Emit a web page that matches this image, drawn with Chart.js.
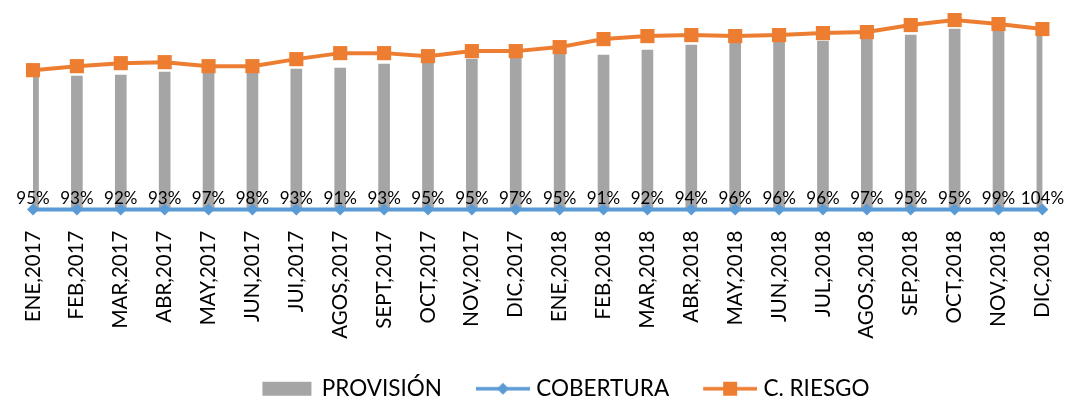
<!DOCTYPE html>
<html>
<head>
<meta charset="utf-8">
<script src="https://cdn.jsdelivr.net/npm/chart.js@4.4.1/dist/chart.umd.min.js"></script>
<style>
    html, body { margin: 0; padding: 0; background: #ffffff; }
    #wrap { width: 1088px; height: 398px; }
</style>
</head>
<body>
<div id="wrap"><canvas id="mainChart"></canvas></div>
<script>
/* =========================
   DATOS
========================= */
const months = [
    "ENE,2017", "FEB,2017", "MAR,2017", "ABR,2017", "MAY,2017", "JUN,2017",
    "JUI,2017", "AGOS,2017", "SEPT,2017", "OCT,2017", "NOV,2017", "DIC,2017",
    "ENE,2018", "FEB,2018", "MAR,2018", "ABR,2018", "MAY,2018", "JUN,2018",
    "JUL,2018", "AGOS,2018", "SEP,2018", "OCT,2018", "NOV,2018", "DIC,2018"
];

const provision = [
    1320, 1330, 1340, 1370, 1370, 1360, 1400, 1410, 1450, 1460, 1500, 1520,
    1550, 1540, 1590, 1640, 1660, 1670, 1680, 1710, 1740, 1800, 1780, 1730
];

const coverage = [
    0.95, 0.93, 0.92, 0.93, 0.97, 0.98, 0.93, 0.91, 0.93, 0.95, 0.95, 0.97,
    0.95, 0.91, 0.92, 0.94, 0.96, 0.96, 0.96, 0.97, 0.95, 0.95, 0.99, 1.04
];

const risk = [
    1390, 1430, 1460, 1470, 1430, 1430, 1500, 1560, 1560, 1530, 1580, 1580,
    1620, 1700, 1730, 1740, 1730, 1740, 1760, 1770, 1840, 1890, 1850, 1800
];

const FONT = "Lato, 'Open Sans', sans-serif";

/* =========================
   ICONOS DE LEYENDA
   (lienzo de 80px, dibujo a la derecha)
========================= */
function makeIcon(kind, color) {
    const c = document.createElement("canvas");
    c.width = 80;
    c.height = 16;
    const g = c.getContext("2d");
    g.fillStyle = color;
    g.strokeStyle = color;
    if (kind === "bar") {
        g.fillRect(27, 1, 49, 14);
        return c;
    }
    const left = 26;
    const right = 80;
    const mid = (left + right) / 2;
    g.lineWidth = 3.5;
    g.beginPath();
    g.moveTo(left, 8);
    g.lineTo(right, 8);
    g.stroke();
    g.beginPath();
    if (kind === "diamond") {
        g.moveTo(mid, 2);
        g.lineTo(mid + 6, 8);
        g.lineTo(mid, 14);
        g.lineTo(mid - 6, 8);
    } else {
        g.rect(mid - 7, 1, 14, 14);
    }
    g.closePath();
    g.fill();
    return c;
}

const legendIcons = [
    makeIcon("bar", "#A5A5A5"),
    makeIcon("diamond", "#5B9BD5"),
    makeIcon("square", "#ED7D31")
];

/* =========================
   ETIQUETAS DE COBERTURA
========================= */
const coverageLabels = {
    id: "coverageLabels",
    afterDatasetsDraw(chart) {
        const meta = chart.getDatasetMeta(1);
        const ctx = chart.ctx;
        ctx.save();
        ctx.font = "17px " + FONT;
        ctx.fillStyle = "#000000";
        ctx.textBaseline = "alphabetic";
        ctx.textAlign = "center";
        meta.data.forEach((pt, i) => {
            const text = Math.round(coverage[i] * 100) + "%";
            const w = ctx.measureText(text).width;
            let x = pt.x;
            let y = pt.y - 5;
            if (x + w / 2 > chart.width - 2) {
                x = chart.width - 6 - w / 2;
                y -= 10;
            }
            ctx.fillText(text, x, y);
        });
        ctx.restore();
    }
};

/* =========================
   GRAFICO
========================= */
new Chart(document.getElementById("mainChart").getContext("2d"), {
    type: "bar",
    data: {
        labels: months,
        datasets: [
            {
                type: "bar",
                label: "PROVISIÓN",
                data: provision,
                backgroundColor: "#A5A5A5",
                barThickness: 11,
                order: 3
            },
            {
                type: "line",
                label: "COBERTURA",
                data: coverage,
                borderColor: "#5B9BD5",
                backgroundColor: "#5B9BD5",
                borderWidth: 4,
                pointStyle: "rectRot",
                pointRadius: 6,
                pointBorderWidth: 0,
                tension: 0,
                clip: false,
                order: 2
            },
            {
                type: "line",
                label: "C. RIESGO",
                data: risk,
                borderColor: "#ED7D31",
                backgroundColor: "#ED7D31",
                borderWidth: 4,
                pointStyle: "rect",
                pointRadius: 10,
                pointBorderWidth: 0,
                tension: 0,
                clip: false,
                order: 1
            }
        ]
    },
    options: {
        responsive: true,
        maintainAspectRatio: false,
        animation: false,
        layout: {
            autoPadding: false,
            padding: { left: 33, right: 11, top: 0, bottom: -12 }
        },
        plugins: {
            tooltip: { enabled: false },
            legend: {
                display: true,
                position: "bottom",
                labels: {
                    usePointStyle: true,
                    pointStyleWidth: 70,
                    padding: 13,
                    color: "#000000",
                    font: { family: FONT, size: 22.5, lineHeight: 1 },
                    generateLabels: chart => chart.data.datasets.map((ds, i) => ({
                        text: ds.label,
                        pointStyle: legendIcons[i],
                        datasetIndex: i,
                        hidden: false,
                        fontColor: "#000000",
                        lineWidth: 0,
                        strokeStyle: "rgba(0,0,0,0)",
                        fillStyle: "rgba(0,0,0,0)"
                    }))
                }
            }
        },
        scales: {
            x: {
                offset: false,
                grid: { display: false, drawTicks: false },
                border: { display: false },
                afterFit: scale => { scale.height = 155; },
                ticks: {
                    autoSkip: false,
                    maxRotation: 90,
                    minRotation: 90,
                    padding: 21,
                    color: "#000000",
                    font: { family: FONT, size: 20.5 }
                }
            },
            y: {
                display: false,
                min: 0,
                max: 2090
            }
        }
    },
    plugins: [coverageLabels]
});
</script>
</body>
</html>
